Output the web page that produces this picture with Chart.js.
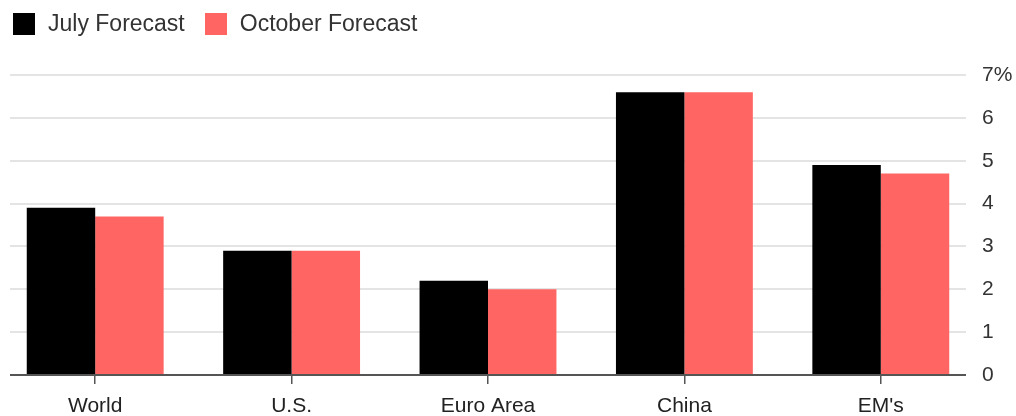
<!DOCTYPE html>
<html>
<head>
<meta charset="utf-8">
<script src="https://cdn.jsdelivr.net/npm/chart.js@4/dist/chart.umd.min.js"></script>
<style>
  body { margin: 0; background: #fff; }
  #wrap { position: relative; width: 1016px; height: 416px; }
  #legend {
    position: absolute; left: 13px; top: 10px;
    display: flex; align-items: center;
    font: 23px "Liberation Sans", Arial, sans-serif; color: #333;
  }
  .sw { width: 22px; height: 22px; margin-right: 13px; }
  .item { display: flex; align-items: center; margin-right: 20px; }
</style>
</head>
<body>
<div id="wrap">
  <canvas id="chart" width="1016" height="416"></canvas>
  <div id="legend"></div>
</div>
<script>
const categories = ["World", "U.S.", "Euro Area", "China", "EM's"];
const julyForecast = [3.9, 2.9, 2.2, 6.6, 4.9];
const octoberForecast = [3.7, 2.9, 2.0, 6.6, 4.7];
const seriesNames = ["July Forecast", "October Forecast"];
const seriesColors = ["#000000", "#ff6663"];

const font = "'Liberation Sans', Arial, sans-serif";

// html legend
let legendEl = document.getElementById("legend");
for (let i = 0; i < seriesNames.length; i++) {
  let item = document.createElement("div");
  item.className = "item";
  item.innerHTML = '<span class="sw" style="background:' + seriesColors[i] + '"></span>' + seriesNames[i];
  legendEl.appendChild(item);
}

// categories spread a bit wider than the gridlines
const widenX = {
  id: "widenX",
  afterLayout(chart) {
    let x = chart.scales.x;
    x.left -= 13;
    x.right += 13;
    x.width = x.right - x.left;
    x.configure();
  }
};

new Chart(document.getElementById("chart"), {
  type: "bar",
  data: {
    labels: categories,
    datasets: [
      {
        label: seriesNames[0],
        data: julyForecast,
        backgroundColor: seriesColors[0],
        categoryPercentage: 0.697,
        barPercentage: 1.0,
        clip: false
      },
      {
        label: seriesNames[1],
        data: octoberForecast,
        backgroundColor: seriesColors[1],
        categoryPercentage: 0.697,
        barPercentage: 1.0,
        clip: false
      }
    ]
  },
  options: {
    responsive: false,
    animation: false,
    layout: { padding: { top: 75, left: 10, right: 3, bottom: 0 } },
    plugins: {
      legend: { display: false },
      tooltip: { enabled: false }
    },
    scales: {
      x: {
        afterFit: (scale) => { scale.height = 41; },
        border: { display: false },
        grid: {
          offset: false,
          drawOnChartArea: false,
          tickLength: 9,
          color: "#555",
          lineWidth: 1.5
        },
        ticks: {
          padding: 10,
          color: "#222",
          font: { family: font, size: 21 }
        }
      },
      y: {
        position: "right",
        min: 0,
        max: 7,
        afterFit: (scale) => { scale.width = 47; },
        border: { display: false },
        grid: {
          drawTicks: false,
          color: (ctx) => (ctx.tick && ctx.tick.value === 0 ? "#555" : "#e4e4e4"),
          lineWidth: 2
        },
        ticks: {
          stepSize: 1,
          padding: 16,
          color: "#333",
          font: { family: font, size: 21 },
          callback: (v) => (v === 7 ? "7%" : v)
        }
      }
    }
  },
  plugins: [widenX]
});
</script>
</body>
</html>
